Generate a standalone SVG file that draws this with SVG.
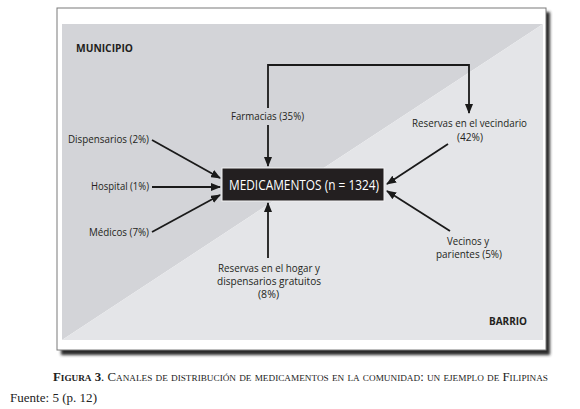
<svg xmlns="http://www.w3.org/2000/svg" width="580" height="409" viewBox="0 0 580 409">
<style>
.lbl{font-family:"Open Sans","Liberation Sans",sans-serif;font-size:10px;fill:#231f20}
.zone{font-family:"Open Sans","Liberation Sans",sans-serif;font-size:11px;font-weight:bold;fill:#231f20}
.edge{fill:none;stroke:#1a1a1a;stroke-width:1.8}
.cap{font-family:"Liberation Serif","Times New Roman",serif;fill:#222}
</style>
<defs>
<marker id="ah" markerWidth="10" markerHeight="8" refX="9" refY="4" orient="auto" markerUnits="userSpaceOnUse">
<path d="M0,0 L10,4 L0,8 Z" fill="#1a1a1a"/>
</marker>
<filter id="sh" x="-5%" y="-5%" width="110%" height="110%">
<feGaussianBlur stdDeviation="1.5"/>
</filter>
</defs>
<rect width="580" height="409" fill="#fff"/>
<g id="frame">
<rect x="61" y="12" width="489" height="343" fill="#2a2a2a" filter="url(#sh)"/>
<rect x="57" y="8" width="489" height="342" fill="#fff" stroke="#7a7a7a" stroke-width="1"/>
<polygon points="62,24 543,24 62,340" fill="#d3d4d8"/>
<polygon points="543,24 543,340 62,340" fill="#e4e5e8"/>
</g>
<g id="zone-municipio"><text class="zone" x="76" y="52" textLength="57" lengthAdjust="spacingAndGlyphs">MUNICIPIO</text></g>
<g id="zone-barrio"><text class="zone" x="489" y="325" textLength="38" lengthAdjust="spacingAndGlyphs">BARRIO</text></g>
<g id="connectors">
<polyline class="edge" points="268,108 268,65 469,65 469,113" marker-end="url(#ah)"/>
<line class="edge" x1="268" y1="125" x2="268" y2="166" marker-end="url(#ah)"/>
<line class="edge" x1="152" y1="140" x2="220" y2="178" marker-end="url(#ah)"/>
<line class="edge" x1="152" y1="187" x2="220" y2="187" marker-end="url(#ah)"/>
<line class="edge" x1="152" y1="232" x2="220" y2="195" marker-end="url(#ah)"/>
<line class="edge" x1="268" y1="258" x2="268" y2="203" marker-end="url(#ah)"/>
<line class="edge" x1="448" y1="144" x2="387" y2="184" marker-end="url(#ah)"/>
<line class="edge" x1="450" y1="231" x2="387" y2="191" marker-end="url(#ah)"/>
</g>
<g id="medicamentos">
<rect x="222" y="168" width="162" height="33" fill="#231f20" stroke="#f2f2f2" stroke-width="1"/>
<text x="229" y="190" font-family="'Open Sans','Liberation Sans',sans-serif" font-size="14.5" fill="#fff" textLength="150" lengthAdjust="spacingAndGlyphs">MEDICAMENTOS (n = 1324)</text>
</g>
<g id="farmacias"><text class="lbl" x="231" y="120" textLength="73" lengthAdjust="spacingAndGlyphs">Farmacias (35%)</text></g>
<g id="dispensarios"><text class="lbl" x="68" y="143" textLength="81" lengthAdjust="spacingAndGlyphs">Dispensarios (2%)</text></g>
<g id="hospital"><text class="lbl" x="91" y="190" textLength="58" lengthAdjust="spacingAndGlyphs">Hospital (1%)</text></g>
<g id="medicos"><text class="lbl" x="89" y="236" textLength="60" lengthAdjust="spacingAndGlyphs">Médicos (7%)</text></g>
<g id="reservas-vecindario">
<text class="lbl" x="412" y="127" textLength="115" lengthAdjust="spacingAndGlyphs">Reservas en el vecindario</text>
<text class="lbl" x="457" y="141" textLength="26" lengthAdjust="spacingAndGlyphs">(42%)</text>
</g>
<g id="vecinos">
<text class="lbl" x="447" y="245" textLength="42" lengthAdjust="spacingAndGlyphs">Vecinos y</text>
<text class="lbl" x="436" y="258" textLength="66" lengthAdjust="spacingAndGlyphs">parientes (5%)</text>
</g>
<g id="reservas-hogar">
<text class="lbl" x="218" y="272" textLength="102" lengthAdjust="spacingAndGlyphs">Reservas en el hogar y</text>
<text class="lbl" x="217" y="285" textLength="104" lengthAdjust="spacingAndGlyphs">dispensarios gratuitos</text>
<text class="lbl" x="258" y="298" textLength="21" lengthAdjust="spacingAndGlyphs">(8%)</text>
</g>
<g id="caption">
<text class="cap" x="53" y="381" font-size="12.5" font-variant="small-caps" textLength="495" lengthAdjust="spacingAndGlyphs"><tspan font-weight="bold">Figura 3</tspan>. Canales de distribución de medicamentos en la comunidad: un ejemplo de Filipinas</text>
<text class="cap" x="10" y="402" font-size="13" textLength="87" lengthAdjust="spacingAndGlyphs">Fuente: 5 (p. 12)</text>
</g>
</svg>
